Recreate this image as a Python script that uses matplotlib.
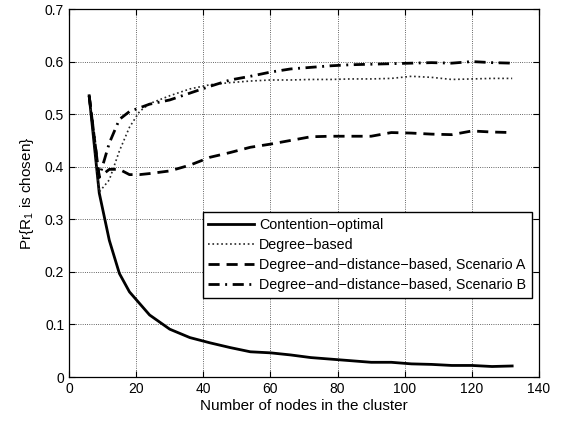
import numpy as np
import matplotlib.pyplot as plt
from matplotlib import rc

rc('font', **{'family': 'sans-serif', 'sans-serif': ['Liberation Sans'], 'size': 10})
rc('mathtext', fontset='custom', rm='Liberation Sans', it='Liberation Sans')

# cluster sizes
nodes = [6, 9, 12, 15, 18, 21, 24, 30, 36, 42, 48, 54, 60, 66, 72, 78, 84,
         90, 96, 102, 108, 114, 120, 126, 132]

contention_opt = [0.535, 0.350, 0.260, 0.197, 0.162, 0.140, 0.118, 0.091, 0.075,
                  0.065, 0.056, 0.048, 0.046, 0.042, 0.037, 0.034, 0.031, 0.028,
                  0.028, 0.025, 0.024, 0.022, 0.022, 0.020, 0.021]
degree_based = [0.535, 0.352, 0.375, 0.430, 0.475, 0.505, 0.520, 0.535, 0.548,
                0.556, 0.560, 0.563, 0.565, 0.565, 0.566, 0.566, 0.567, 0.567,
                0.568, 0.572, 0.570, 0.566, 0.567, 0.568, 0.568]
scen_a = [0.535, 0.380, 0.395, 0.395, 0.385, 0.385, 0.387, 0.392, 0.403, 0.418,
          0.427, 0.437, 0.443, 0.450, 0.457, 0.458, 0.458, 0.458, 0.465, 0.464,
          0.462, 0.461, 0.468, 0.466, 0.465]
scen_b = [0.535, 0.380, 0.445, 0.490, 0.505, 0.512, 0.519, 0.527, 0.540, 0.553,
          0.565, 0.572, 0.580, 0.586, 0.589, 0.592, 0.594, 0.595, 0.596, 0.597,
          0.598, 0.597, 0.600, 0.598, 0.597]

labels = [u'Contention\u2212optimal', u'Degree\u2212based',
          u'Degree\u2212and\u2212distance\u2212based, Scenario A',
          u'Degree\u2212and\u2212distance\u2212based, Scenario B']

fig = plt.figure(figsize=(5.63, 4.23), dpi=100)
ax = fig.add_axes([0.1226, 0.1087, 0.8348, 0.87])

ax.plot(nodes, contention_opt, 'k-', lw=2.0, label=labels[0])
ax.plot(nodes, degree_based, ':', color='0.15', lw=1.2, label=labels[1])
ax.plot(nodes, scen_a, 'k--', lw=2.0, dashes=(4, 2.5), label=labels[2])
ax.plot(nodes, scen_b, 'k-.', lw=2.0, dashes=(4, 2, 0.7, 2), label=labels[3])

ax.set_xlim(0, 140)
ax.set_ylim(0, 0.7)
ax.set_xticks(np.arange(0, 141, 20))
ax.set_yticks(np.arange(0, 0.71, 0.1))
ax.set_yticklabels(['0', '0.1', '0.2', '0.3', '0.4', '0.5', '0.6', '0.7'])
ax.grid(True, linestyle=':', color='k', lw=0.6, alpha=0.8)
ax.tick_params(direction='in', top=True, right=True, length=4, width=0.8)
for s in ax.spines.values():
    s.set_linewidth(0.9)

ax.set_xlabel('Number of nodes in the cluster', fontsize=11, labelpad=2)
ax.set_ylabel(r'Pr{R$_1$ is chosen}', fontsize=11, labelpad=6)

leg = ax.legend(loc='lower left', bbox_to_anchor=(0.284, 0.216), fontsize=10.3,
                frameon=True, fancybox=False, edgecolor='k', framealpha=1,
                handlelength=3.2, borderpad=0.4, labelspacing=0.42,
                handletextpad=0.35, borderaxespad=0)
leg.get_frame().set_linewidth(1.0)

plt.savefig('out.png', dpi=100)
